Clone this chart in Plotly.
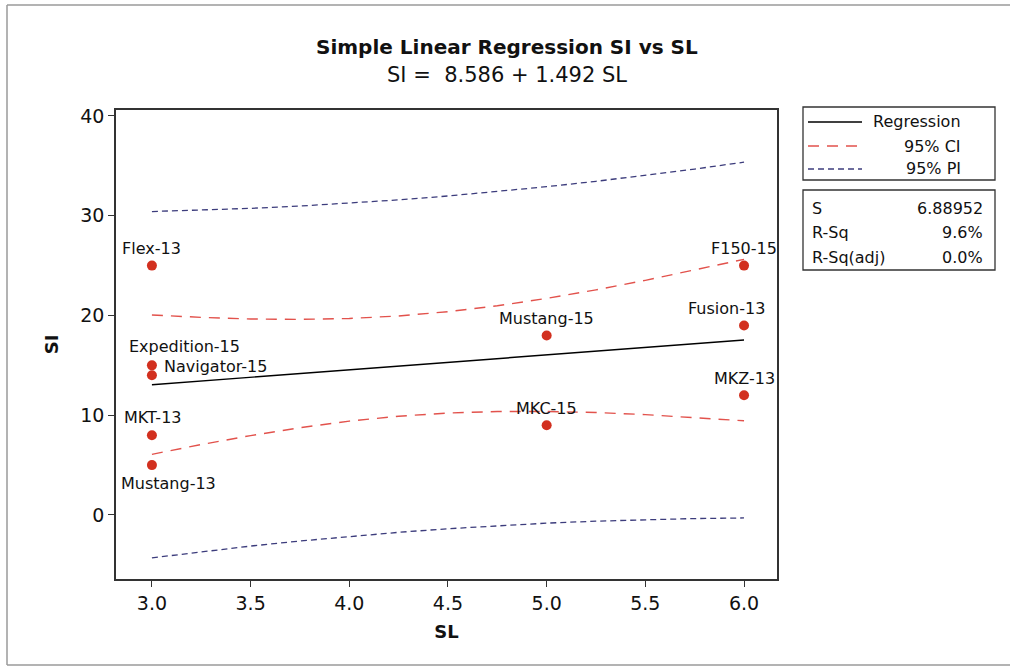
import plotly.graph_objects as go

# ---- data ----
names = ["Flex-13", "Expedition-15", "Navigator-15", "MKT-13", "Mustang-13",
         "Mustang-15", "MKC-15", "F150-15", "Fusion-13", "MKZ-13"]
sl = [3, 3, 3, 3, 3, 5, 5, 6, 6, 6]
si = [25, 15, 14, 8, 5, 18, 9, 25, 19, 12]

band_x = [3.0, 3.25, 3.5, 3.75, 4.0, 4.25, 4.5, 4.75, 5.0, 5.25, 5.5, 5.75, 6.0]
fit_y = [13.06, 13.43, 13.81, 14.18, 14.55, 14.93, 15.30, 15.67, 16.05, 16.42, 16.79, 17.16, 17.54]
ci_low = [6.08, 7.06, 7.96, 8.75, 9.41, 9.90, 10.22, 10.37, 10.38, 10.27, 10.06, 9.78, 9.44]
ci_high = [20.05, 19.81, 19.65, 19.61, 19.70, 19.95, 20.38, 20.97, 21.71, 22.57, 23.52, 24.55, 25.63]
pi_low = [-4.30, -3.68, -3.12, -2.61, -2.15, -1.74, -1.38, -1.08, -0.82, -0.62, -0.46, -0.36, -0.30]
pi_high = [30.42, 30.55, 30.74, 30.97, 31.25, 31.59, 31.98, 32.42, 32.91, 33.45, 34.05, 34.68, 35.37]

x_ticks = [3.0, 3.5, 4.0, 4.5, 5.0, 5.5, 6.0]
y_ticks = [0, 10, 20, 30, 40]

legend_items = ["Regression", "95% CI", "95% PI"]
stat_names = ["S", "R-Sq", "R-Sq(adj)"]
stat_values = ["6.88952", "9.6%", "0.0%"]

title_text = "Simple Linear Regression SI vs SL"
subtitle_text = "SI =&nbsp; 8.586 + 1.492 SL"

# ---- layout geometry (pixels) ----
W, H = 1010, 668
L, R, T, B = 116, 777, 110, 579
FONT = "DejaVu Sans"
RED = "#e2524c"
NAVY = "#3c3c7c"
PT = "#d2301f"


def px(xp):
    return (xp - L) / (R - L)


def py(yp):
    return (B - yp) / (B - T)


fig = go.Figure()

fig.add_trace(go.Scatter(x=band_x, y=pi_low, mode="lines", name="95% PI",
                         line=dict(color=NAVY, width=1.3, dash="6px,4px"), showlegend=False))
fig.add_trace(go.Scatter(x=band_x, y=pi_high, mode="lines", name="95% PI",
                         line=dict(color=NAVY, width=1.3, dash="6px,4px"), showlegend=False))
fig.add_trace(go.Scatter(x=band_x, y=ci_low, mode="lines", name="95% CI",
                         line=dict(color=RED, width=1.4, dash="11px,8px"), showlegend=False))
fig.add_trace(go.Scatter(x=band_x, y=ci_high, mode="lines", name="95% CI",
                         line=dict(color=RED, width=1.4, dash="11px,8px"), showlegend=False))
fig.add_trace(go.Scatter(x=band_x, y=fit_y, mode="lines", name="Regression",
                         line=dict(color="black", width=1.4), showlegend=False))
fig.add_trace(go.Scatter(x=sl, y=si, mode="markers", name="SI",
                         marker=dict(color=PT, size=10), showlegend=False))

# point labels (pixel offsets chosen to mimic placement)
offsets = {
    "Flex-13": (0, 17), "Expedition-15": (33, 19), "Navigator-15": (10, 9),
    "MKT-13": (1, 18), "Mustang-13": (17, -18), "Mustang-15": (0, 17),
    "MKC-15": (0, 17), "F150-15": (0, 17), "Fusion-13": (-18, 17), "MKZ-13": (0, 17),
}
for n, xv, yv in zip(names, sl, si):
    dx, dy = offsets[n]
    anchor = "left" if n == "Navigator-15" else "center"
    fig.add_annotation(x=xv, y=yv, text=n, showarrow=False, xshift=dx, yshift=dy,
                       xanchor=anchor, yanchor="middle",
                       font=dict(family=FONT, size=16, color="#111"))

# titles
fig.add_annotation(xref="paper", yref="paper", x=px(507), y=py(47), text="<b>" + title_text + "</b>",
                   showarrow=False, xanchor="center", yanchor="middle",
                   font=dict(family=FONT, size=20, color="#111"))
fig.add_annotation(xref="paper", yref="paper", x=px(507), y=py(75), text=subtitle_text,
                   showarrow=False, xanchor="center", yanchor="middle",
                   font=dict(family=FONT, size=21, color="#111"))

shapes = []
# outer border (top, left, bottom; right side lies outside the picture)
border = dict(color="#9a9a9a", width=1.5)
shapes.append(dict(type="line", xref="paper", yref="paper", x0=px(7), x1=px(1010), y0=py(5), y1=py(5), line=border))
shapes.append(dict(type="line", xref="paper", yref="paper", x0=px(7), x1=px(7), y0=py(5), y1=py(665), line=border))
shapes.append(dict(type="line", xref="paper", yref="paper", x0=px(7), x1=px(1010), y0=py(665), y1=py(665), line=border))
# legend boxes
shapes.append(dict(type="rect", xref="paper", yref="paper", x0=px(803), x1=px(995), y0=py(107), y1=py(180),
                   line=dict(color="#333", width=1.3)))
shapes.append(dict(type="rect", xref="paper", yref="paper", x0=px(803), x1=px(995), y0=py(190), y1=py(270),
                   line=dict(color="#333", width=1.3)))
leg_styles = [dict(color="black", width=1.3), dict(color=RED, width=1.3, dash="11px,8px"),
              dict(color=NAVY, width=1.3, dash="6px,4px")]
leg_y = [122, 146, 169]
for item, st, yy in zip(legend_items, leg_styles, leg_y):
    shapes.append(dict(type="line", xref="paper", yref="paper", x0=px(808), x1=px(862),
                       y0=py(yy), y1=py(yy), line=st))
    fig.add_annotation(xref="paper", yref="paper", x=px(963), y=py(yy), text=item, showarrow=False,
                       xanchor="right", yanchor="middle", font=dict(family=FONT, size=16, color="#111"))
stat_y = [208, 233, 257]
for nm, val, yy in zip(stat_names, stat_values, stat_y):
    fig.add_annotation(xref="paper", yref="paper", x=px(810), y=py(yy), text=nm, showarrow=False,
                       xanchor="left", yanchor="middle", font=dict(family=FONT, size=16, color="#111"))
    fig.add_annotation(xref="paper", yref="paper", x=px(985), y=py(yy), text=val, showarrow=False,
                       xanchor="right", yanchor="middle", font=dict(family=FONT, size=16, color="#111"))

fig.update_layout(
    width=W, height=H, autosize=False,
    margin=dict(l=L, r=W - R, t=T, b=H - B),
    paper_bgcolor="white", plot_bgcolor="white",
    shapes=shapes,
    font=dict(family=FONT, color="#111"),
)
fig.update_xaxes(range=[2.818, 6.167], tickvals=x_ticks, ticktext=[f"{v:.1f}" for v in x_ticks],
                 showgrid=False, zeroline=False, showline=True, linecolor="#333", linewidth=1.5,
                 mirror=True, ticks="outside", ticklen=6, tickcolor="#333",
                 tickfont=dict(family=FONT, size=19),
                 title=dict(text="<b>SL</b>", font=dict(family=FONT, size=18), standoff=13))
fig.update_yaxes(range=[-6.42, 40.6], tickvals=y_ticks,
                 showgrid=False, zeroline=False, showline=True, linecolor="#333", linewidth=1.5,
                 mirror=True, ticks="outside", ticklen=6, tickcolor="#333",
                 tickfont=dict(family=FONT, size=19),
                 title=dict(text="<b>SI</b>", font=dict(family=FONT, size=18), standoff=17))

fig.write_html("out.html")
